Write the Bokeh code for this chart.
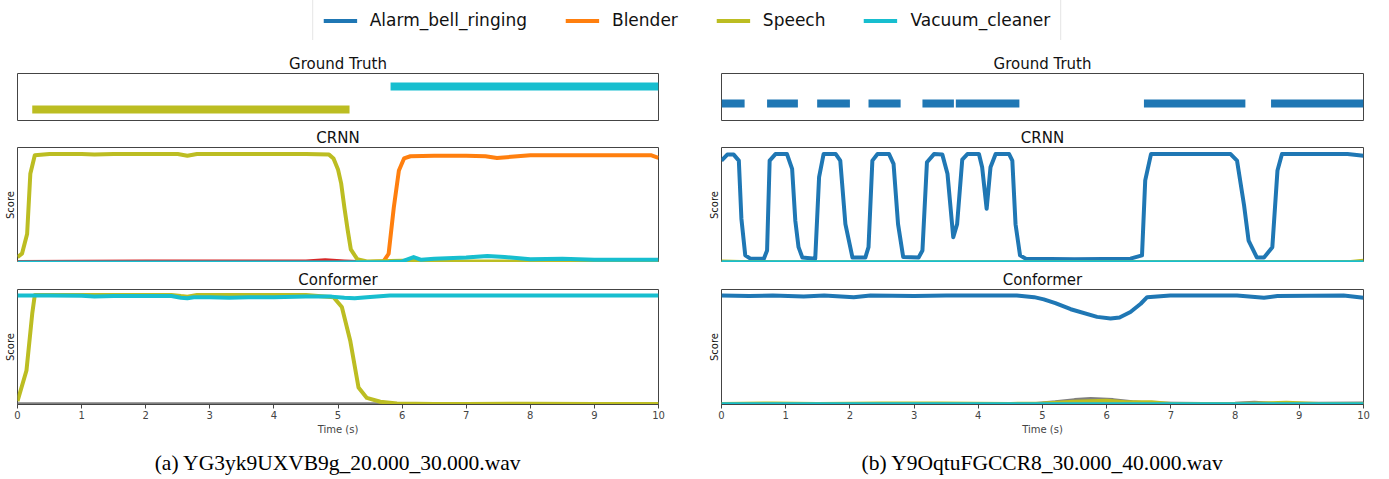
import math
from bokeh.plotting import figure
from bokeh.models import Range1d, LinearAxis, FixedTicker, Legend, LegendItem, Title
from bokeh.layouts import column, row
from bokeh.embed import file_html
from bokeh.resources import INLINE

# ---------------- data ----------------
legend_classes = ["Alarm_bell_ringing", "Blender", "Speech", "Vacuum_cleaner"]
palette = {"Alarm_bell_ringing": "#1f77b4", "Blender": "#ff7f0e", "Dishes": "#d62728",
           "Running_water": "#7f7f7f", "Speech": "#bcbd22", "Vacuum_cleaner": "#17becf"}
class_index = {"Alarm_bell_ringing": 0, "Blender": 1, "Dishes": 3, "Running_water": 7,
               "Speech": 8, "Vacuum_cleaner": 9}

# (a) ground truth
gt_a_class = ["Speech", "Vacuum_cleaner"]
gt_a_onset = [0.23, 5.82]
gt_a_offset = [5.18, 10.0]
# (b) ground truth
gt_b_class = ["Alarm_bell_ringing"] * 8
gt_b_onset = [0.0, 0.71, 1.49, 2.29, 3.13, 3.65, 6.58, 8.56]
gt_b_offset = [0.36, 1.19, 2.0, 2.79, 3.62, 4.64, 8.16, 10.0]

# (a) CRNN
a_crnn_dishes_t = [0, 2.0, 4.5, 4.8, 5.1, 5.5, 10]
a_crnn_dishes_s = [0.005, 0.01, 0.01, 0.02, 0.01, 0.0, 0.0]
a_crnn_blender_t = [0, 1, 2, 3, 4, 5, 5.5, 5.71, 5.79, 5.87, 5.95, 6.03, 6.13, 6.5, 7.0, 7.3,
                    7.48, 7.7, 8.0, 8.5, 9.0, 9.5, 9.88, 10.0]
a_crnn_blender_s = [0.005, 0.005, 0.005, 0.005, 0.005, 0.005, 0.005, 0.01, 0.08, 0.5, 0.84, 0.95,
                    0.97, 0.975, 0.975, 0.97, 0.955, 0.965, 0.98, 0.98, 0.98, 0.98, 0.98, 0.955]
a_crnn_speech_t = [0, 0.07, 0.15, 0.2, 0.27, 0.5, 1.0, 1.2, 1.5, 2.0, 2.5, 2.65, 2.8, 3.5, 4.0,
                   4.5, 4.86, 4.93, 5.0, 5.05, 5.1, 5.15, 5.2, 5.3, 5.45, 6.0, 7.0, 8.0, 9.0, 10.0]
a_crnn_speech_s = [0.05, 0.08, 0.26, 0.81, 0.98, 0.99, 0.99, 0.985, 0.99, 0.99, 0.99, 0.975, 0.99,
                   0.99, 0.99, 0.99, 0.985, 0.95, 0.85, 0.72, 0.5, 0.3, 0.12, 0.03, 0.01, 0.015,
                   0.01, 0.01, 0.01, 0.01]
a_crnn_vacuum_t = [0, 1, 2, 3, 4, 5, 5.8, 6.0, 6.18, 6.3, 6.5, 7.0, 7.33, 7.6, 8.0, 8.5, 9.0,
                   9.5, 10.0]
a_crnn_vacuum_s = [0.0, 0.0, 0.0, 0.0, 0.0, 0.0, 0.005, 0.01, 0.05, 0.025, 0.035, 0.045, 0.06,
                   0.05, 0.03, 0.035, 0.025, 0.025, 0.025]

# (a) Conformer
a_conf_water_t = [0, 10]
a_conf_water_s = [0.002, 0.002]
a_conf_speech_t = [0, 0.14, 0.23, 0.27, 0.5, 1.0, 1.5, 2.0, 2.4, 2.55, 2.65, 2.8, 3.0, 3.5, 4.0,
                   4.5, 4.93, 5.06, 5.19, 5.32, 5.45, 5.66, 5.92, 6.5, 7, 8, 9, 10]
a_conf_speech_s = [0.03, 0.31, 0.83, 1.0, 1.0, 1.0, 1.0, 1.0, 1.0, 0.99, 0.985, 1.0, 1.0, 1.0,
                   1.0, 1.0, 0.98, 0.89, 0.585, 0.155, 0.06, 0.025, 0.01, 0.005, 0.005, 0.007,
                   0.005, 0.005]
a_conf_vacuum_t = [0, 0.5, 1.0, 1.2, 1.5, 2.0, 2.4, 2.55, 2.65, 2.75, 3.0, 3.3, 3.6, 4.0, 4.5,
                   4.9, 5.1, 5.26, 5.45, 5.81, 6.5, 7, 8, 9, 10]
a_conf_vacuum_s = [0.995, 0.995, 0.993, 0.985, 0.99, 0.99, 0.99, 0.975, 0.97, 0.98, 0.98, 0.975,
                   0.98, 0.98, 0.985, 0.985, 0.975, 0.97, 0.98, 0.995, 0.995, 0.995, 0.995,
                   0.995, 0.995]

# (b) CRNN
b_crnn_alarm_t = [0.0, 0.09, 0.19, 0.27, 0.31, 0.37, 0.45, 0.66, 0.71, 0.75, 0.84, 1.02, 1.10,
                  1.15, 1.20, 1.26, 1.46, 1.52, 1.59, 1.78, 1.85, 1.93, 2.04, 2.24, 2.29, 2.35,
                  2.43, 2.61, 2.68, 2.75, 2.83, 3.07, 3.13, 3.2, 3.31, 3.44, 3.52, 3.61, 3.67,
                  3.75, 3.83, 4.01, 4.06, 4.13, 4.19, 4.27, 4.48, 4.53, 4.58, 4.65, 4.74, 5.5,
                  6.37, 6.55, 6.6, 6.69, 7.93, 8.03, 8.14, 8.21, 8.34, 8.45, 8.58, 8.66, 8.73,
                  9.75, 10.0]
b_crnn_alarm_s = [0.93, 0.985, 0.985, 0.93, 0.40, 0.065, 0.035, 0.035, 0.11, 0.93, 0.99, 0.99,
                  0.855, 0.38, 0.14, 0.045, 0.035, 0.78, 0.99, 0.99, 0.93, 0.35, 0.045, 0.045,
                  0.14, 0.93, 0.99, 0.99, 0.90, 0.35, 0.05, 0.045, 0.11, 0.915, 0.99, 0.985,
                  0.81, 0.23, 0.35, 0.94, 0.99, 0.99, 0.87, 0.49, 0.87, 0.99, 0.99, 0.93, 0.35,
                  0.065, 0.035, 0.03, 0.035, 0.065, 0.75, 0.99, 0.99, 0.93, 0.52, 0.2, 0.045,
                  0.045, 0.14, 0.84, 0.99, 0.99, 0.975]
b_crnn_speech_t = [0, 0.3, 1, 9.8, 10]
b_crnn_speech_s = [0.01, 0.004, 0.003, 0.004, 0.015]
b_crnn_vacuum_t = [0, 10]
b_crnn_vacuum_s = [0.003, 0.003]

# (b) Conformer
b_conf_alarm_t = [0, 0.43, 0.8, 1.28, 1.6, 2.06, 2.32, 3.0, 3.5, 4.0, 4.6, 4.87, 5.02, 5.2, 5.44,
                  5.85, 6.06, 6.2, 6.37, 6.53, 6.63, 6.99, 8.03, 8.45, 8.66, 9.69, 10.0]
b_conf_alarm_s = [0.995, 0.99, 0.995, 0.985, 0.995, 0.98, 0.995, 0.99, 0.995, 0.995, 0.995,
                  0.98, 0.96, 0.925, 0.87, 0.80, 0.785, 0.795, 0.845, 0.92, 0.98, 0.995, 0.995,
                  0.975, 0.99, 0.995, 0.975]
b_conf_water_t = [0, 4.9, 5.2, 5.5, 5.75, 6.1, 6.4, 6.7, 7.5, 8.0, 8.3, 8.6, 10]
b_conf_water_s = [0.003, 0.005, 0.02, 0.04, 0.05, 0.04, 0.02, 0.008, 0.004, 0.006, 0.015,
                  0.005, 0.01]
b_conf_speech_t = [0, 0.8, 1.5, 2.5, 3.4, 4.5, 5.0, 5.5, 6.0, 6.3, 6.7, 7.0, 8.0, 8.8, 9.3, 10]
b_conf_speech_s = [0.005, 0.01, 0.005, 0.01, 0.008, 0.005, 0.01, 0.025, 0.035, 0.02, 0.02,
                   0.005, 0.005, 0.015, 0.005, 0.005]
b_conf_vacuum_t = [0, 10]
b_conf_vacuum_s = [0.002, 0.002]

captions = ["(a) YG3yk9UXVB9g_20.000_30.000.wav", "(b) Y9OqtuFGCCR8_30.000_40.000.wav"]
time_ticks = [0, 1, 2, 3, 4, 5, 6, 7, 8, 9, 10]

# ---------------- layout constants ----------------
FONT = "DejaVu Sans"
FRAME_W = [641, 642]
BORDER_L = [17, 17]
BORDER_R = [46, 10]
OUTLINE = "#444444"


def panel(col, title, frame_h, top, bottom, y_range):
    p = figure(frame_width=FRAME_W[col], frame_height=frame_h,
               x_range=Range1d(0, 10), y_range=Range1d(*y_range),
               min_border_left=BORDER_L[col], min_border_right=BORDER_R[col],
               min_border_top=top, min_border_bottom=bottom,
               x_axis_location=None, y_axis_location=None,
               toolbar_location=None, output_backend="svg", title=title)
    p.grid.visible = False
    p.title.align = "center"
    p.title.text_font = FONT
    p.title.text_font_size = "15px"
    p.title.text_font_style = "normal"
    p.title.text_color = "#111111"
    p.title.standoff = 2
    p.outline_line_color = OUTLINE
    p.outline_line_width = 1
    p.background_fill_color = "white"
    p.border_fill_color = "white"
    return p


def score_axis(p):
    ax = LinearAxis(ticker=FixedTicker(ticks=[]), axis_label="Score",
                    axis_label_text_font=FONT, axis_label_text_font_size="10px",
                    axis_label_text_font_style="normal", axis_label_text_color="#111111",
                    axis_label_standoff=2, major_label_text_font_size="0px",
                    major_label_standoff=0, major_tick_out=0, major_tick_in=0,
                    minor_tick_out=0, minor_tick_in=0, axis_line_color=None)
    p.add_layout(ax, "left")


def curves(p, series):
    for name, t, s in sorted(series, key=lambda c: class_index[c[0]]):
        p.line(t, s, line_color=palette[name], line_width=4, line_join="round")


def gt_panel(col, classes, onsets, offsets, y_range):
    p = panel(col, "Ground Truth", 48, 33, 0, y_range)
    ys = [class_index[c] for c in classes]
    cols = [palette[c] for c in classes]
    p.segment(x0=onsets, y0=ys, x1=offsets, y1=ys, line_color=cols, line_width=8,
              line_cap="butt")
    return p


def conf_axis(p, caption):
    ax = LinearAxis(ticker=FixedTicker(ticks=time_ticks), axis_label="Time (s)",
                    axis_label_text_font=FONT, axis_label_text_font_size="10px",
                    axis_label_text_font_style="normal", axis_label_standoff=2,
                    major_label_text_font=FONT, major_label_text_font_size="10px",
                    major_label_standoff=2, major_tick_out=4, major_tick_in=0,
                    minor_tick_out=0, minor_tick_in=0, axis_line_color=OUTLINE,
                    major_tick_line_color=OUTLINE)
    p.add_layout(ax, "below")
    p.add_layout(Title(text=caption, align="center", text_font="Liberation Serif",
                       text_font_size="21.5px", text_font_style="normal",
                       text_color="black", standoff=23), "below")


# ground truth
gt_a = gt_panel(0, gt_a_class, gt_a_onset, gt_a_offset, (7.48, 9.56))
gt_b = gt_panel(1, gt_b_class, gt_b_onset, gt_b_offset, (-0.78, 1.3))

# CRNN
crnn_a = panel(0, "CRNN", 115, 26, 0, (0, 1.05))
curves(crnn_a, [("Dishes", a_crnn_dishes_t, a_crnn_dishes_s),
                ("Blender", a_crnn_blender_t, a_crnn_blender_s),
                ("Speech", a_crnn_speech_t, a_crnn_speech_s),
                ("Vacuum_cleaner", a_crnn_vacuum_t, a_crnn_vacuum_s)])
score_axis(crnn_a)
crnn_b = panel(1, "CRNN", 115, 26, 0, (0, 1.05))
curves(crnn_b, [("Alarm_bell_ringing", b_crnn_alarm_t, b_crnn_alarm_s),
                ("Speech", b_crnn_speech_t, b_crnn_speech_s),
                ("Vacuum_cleaner", b_crnn_vacuum_t, b_crnn_vacuum_s)])
score_axis(crnn_b)

# Conformer
conf_a = panel(0, "Conformer", 115, 27, 75, (0, 1.05))
curves(conf_a, [("Running_water", a_conf_water_t, a_conf_water_s),
                ("Speech", a_conf_speech_t, a_conf_speech_s),
                ("Vacuum_cleaner", a_conf_vacuum_t, a_conf_vacuum_s)])
score_axis(conf_a)
conf_axis(conf_a, captions[0])
conf_b = panel(1, "Conformer", 115, 27, 75, (0, 1.05))
curves(conf_b, [("Alarm_bell_ringing", b_conf_alarm_t, b_conf_alarm_s),
                ("Running_water", b_conf_water_t, b_conf_water_s),
                ("Speech", b_conf_speech_t, b_conf_speech_s),
                ("Vacuum_cleaner", b_conf_vacuum_t, b_conf_vacuum_s)])
score_axis(conf_b)
conf_axis(conf_b, captions[1])

# legend strip (legend handles are drawn from off-screen dummy lines)
total_w = sum(FRAME_W) + sum(BORDER_L) + sum(BORDER_R)
leg = figure(width=total_w, height=40, x_range=Range1d(0, 1), y_range=Range1d(0, 1),
             x_axis_location=None, y_axis_location=None, toolbar_location=None,
             output_backend="svg", min_border=0)
leg.grid.visible = False
leg.outline_line_color = None
items = []
for c in legend_classes:
    r = leg.line(x=[0, 1], y=[5, 5], line_color=palette[c], line_width=4)
    items.append(LegendItem(label=c, renderers=[r]))
legend = Legend(items=items, orientation="horizontal", location="center",
                label_text_font=FONT, label_text_font_size="17px", label_text_color="#111111",
                glyph_width=34, glyph_height=17, label_height=17, label_standoff=13,
                spacing=38, padding=10, margin=0, border_line_color="#cccccc",
                border_line_width=1, background_fill_color="white", background_fill_alpha=1)
leg.add_layout(legend, "center")

layout = column(leg, row(gt_a, gt_b, spacing=0), row(crnn_a, crnn_b, spacing=0),
                row(conf_a, conf_b, spacing=0), spacing=0)

open("out.html", "w").write(file_html(layout, INLINE))
